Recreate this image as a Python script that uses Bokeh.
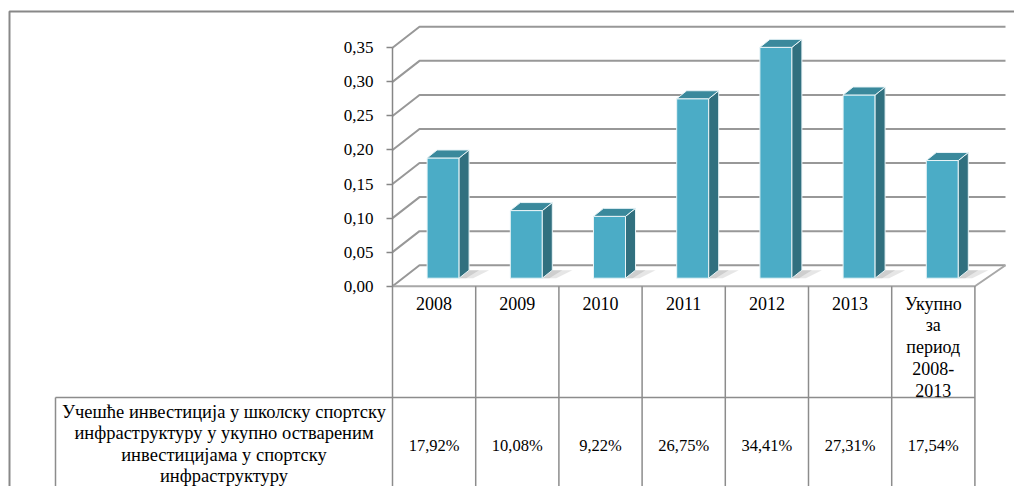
from bokeh.plotting import figure
from bokeh.models import Range1d, LinearAxis, FixedTicker, CustomJSTickFormatter
from bokeh.core.properties import value
from bokeh.embed import file_html
from bokeh.resources import INLINE

# ---------------- data ----------------
categories = ["2008", "2009", "2010", "2011", "2012", "2013", "Укупно за период 2008-2013"]
header_lines = [["2008"], ["2009"], ["2010"], ["2011"], ["2012"], ["2013"],
                ["Укупно", "за", "период", "2008-", "2013"]]
shares = [0.1792, 0.1008, 0.0922, 0.2675, 0.3441, 0.2731, 0.1754]
share_labels = ["17,92%", "10,08%", "9,22%", "26,75%", "34,41%", "27,31%", "17,54%"]
row_label_lines = ["Учешће инвестиција у школску спортску",
                   "инфраструктуру у укупно оствареним",
                   "инвестицијама у спортску",
                   "инфраструктуру"]
y_ticks = [0.0, 0.05, 0.10, 0.15, 0.20, 0.25, 0.30, 0.35]

# ---------------- layout helpers ----------------
W, H, M = 1014, 486, 0
PX_X, AX_X = 83.2, 392.0      # px per category, page x of the value axis
PX_Y, ZERO_Y = 681.1, 285.7   # px per value unit, page y of 0

def dx(px): return px / PX_X
def dy(px): return px / PX_Y
def xp(page_x): return (page_x - AX_X) / PX_X - 0.5
def yp(page_y): return (ZERO_Y - page_y) / PX_Y

FONT = value("Liberation Serif")
GRID_C = "#989898"
TABLE_C = "#8c8c8c"

p = figure(width=W, height=H,
           x_range=Range1d(xp(M), xp(M + W)),
           y_range=Range1d(yp(M + H), yp(M)),
           output_backend="svg", toolbar_location=None,
           x_axis_location=None, y_axis_location=None,
           min_border=0, outline_line_color=None,
           background_fill_color="white", border_fill_color="white")
p.grid.visible = False

n = len(shares)
x0 = -0.5
x_end = x0 + n
DXW, DXW_R, DYW = dx(27), dx(30.6), dy(21)

# ---------------- 3D walls / gridlines ----------------
gx, gy = [], []
for t in y_ticks:
    gx.append([x0, x0 + DXW, x_end + DXW_R])
    gy.append([t, t + DYW, t + DYW])
p.multi_line(gx, gy, line_color=GRID_C, line_width=2)
# floor front and right edges
p.line([x0, x_end, x_end + DXW_R], [0, 0, DYW], line_color="#a8a8a8", line_width=2)

# ---------------- bars ----------------
BAR_W, BAR_SHIFT = dx(32), dx(9)
BASE = dy(8)
SD_X, SD_Y = dx(10), dy(8)
K = 0.985

lefts = [i + BAR_SHIFT - BAR_W / 2 for i in range(n)]
rights = [l + BAR_W for l in lefts]
tops = [BASE + K * v for v in shares]

# soft floor shadows
p.patches([[r, r + dx(14), r + SD_X + dx(20), r + SD_X] for r in rights],
          [[BASE, BASE, BASE + SD_Y, BASE + SD_Y] for _ in rights],
          fill_color="#c8c8c8", fill_alpha=0.45, line_color=None)
p.patches([[r, r + dx(7), r + SD_X + dx(10), r + SD_X] for r in rights],
          [[BASE, BASE, BASE + SD_Y, BASE + SD_Y] for _ in rights],
          fill_color="#a0a0a0", fill_alpha=0.35, line_color=None)

p.quad(left=lefts, right=rights, bottom=BASE, top=tops,
       fill_color="#4BACC6", line_color="#e8f4f7", line_width=1)
p.patches([[r, r + SD_X, r + SD_X, r] for r in rights],
          [[BASE, BASE + SD_Y, t + SD_Y, t] for t in tops],
          fill_color="#31707F", line_color="#e8f4f7", line_width=1)
p.patches([[l, r, r + SD_X, l + SD_X] for l, r in zip(lefts, rights)],
          [[t, t, t + SD_Y, t + SD_Y] for t in tops],
          fill_color="#3A899C", line_color="#e8f4f7", line_width=1)

# ---------------- value axis ----------------
yaxis = LinearAxis(fixed_location=x0, bounds=(0, 0.35),
                   ticker=FixedTicker(ticks=y_ticks),
                   formatter=CustomJSTickFormatter(code="return tick.toFixed(2).replace('.', ',');"))
yaxis.axis_line_color = "#868686"
yaxis.axis_line_width = 1.5
yaxis.major_tick_line_color = "#868686"
yaxis.major_tick_line_width = 1.5
yaxis.major_tick_out = 6
yaxis.major_tick_in = 0
yaxis.minor_tick_out = 0
yaxis.minor_tick_in = 0
yaxis.major_label_standoff = 13
yaxis.major_label_text_font = "Liberation Serif"
yaxis.major_label_text_font_size = "17px"
yaxis.major_label_text_color = "black"
p.add_layout(yaxis, "left")

# ---------------- data table ----------------
bottom = yp(M + H + 20)
row_split = yp(397)
left_cell = xp(55)
vx = [[x0 + i, x0 + i] for i in range(n + 1)] + [[left_cell, left_cell]]
vy = [[0, bottom] for i in range(n + 1)] + [[row_split, bottom]]
p.multi_line(vx, vy, line_color=TABLE_C, line_width=1.5)
p.line([left_cell, x_end], [row_split, row_split], line_color=TABLE_C, line_width=1.5)

# header texts
hx, hy, ht = [], [], []
for i, lines in enumerate(header_lines):
    for j, s in enumerate(lines):
        hx.append(i)
        hy.append(yp(303 + j * 21.7))
        ht.append(s)
p.text(hx, hy, text=ht, text_align="center", text_baseline="middle",
       text_font=FONT, text_font_size="18px", text_color="black")

# value texts
p.text(list(range(n)), [yp(445)] * n, text=share_labels,
       text_align="center", text_baseline="middle",
       text_font=FONT, text_font_size="16.5px", text_color="black")

# row label
lx = (left_cell + x0) / 2
p.text([lx] * len(row_label_lines), [yp(411.5 + j * 21.3) for j in range(len(row_label_lines))],
       text=row_label_lines, text_align="center", text_baseline="middle",
       text_font=FONT, text_font_size="18.5px", text_color="black")

# ---------------- outer frame of the source picture ----------------
p.line([xp(9), xp(9), xp(M + W + 10)], [yp(M + H + 20), yp(11), yp(11)],
       line_color="#888888", line_width=2)

open("out.html", "w").write(file_html(p, INLINE))
